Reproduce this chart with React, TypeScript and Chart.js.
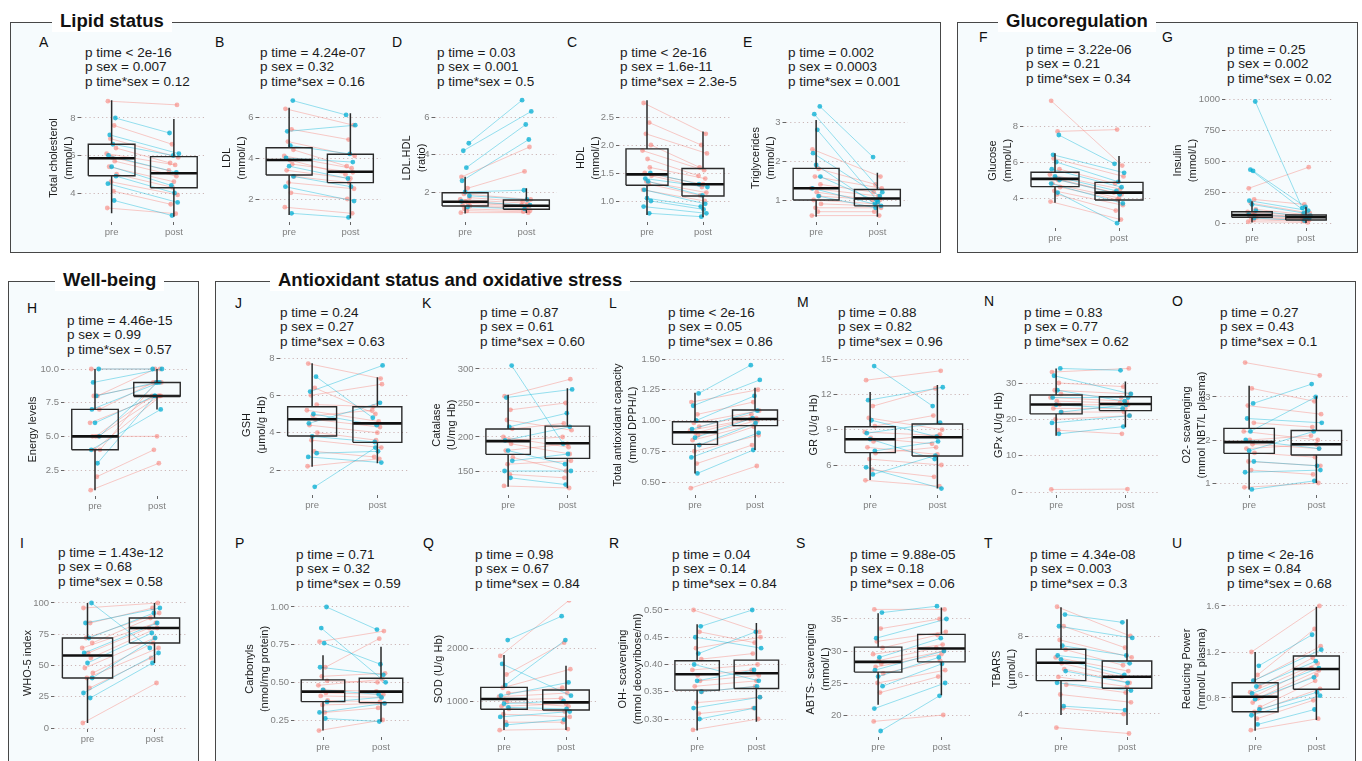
import React, { useEffect, useRef } from 'react';
import { Chart, registerables } from 'chart.js';
Chart.register(...registerables);

const FONT = '"Liberation Sans", Arial, Helvetica, sans-serif';
const X_LABELS = ['pre', 'post'];
const JITTER_PRE = [-0.06, 0.04, -0.02, 0.07, -0.08, 0.01, 0.05, -0.04, 0.08, -0.01, 0.03, -0.07, 0.06, -0.03, 0.02, -0.05, 0.0, 0.07, -0.06, 0.04];
const JITTER_POST = [0.05, -0.03, 0.07, -0.06, 0.02, -0.08, 0.04, 0.0, -0.02, 0.06, -0.05, 0.03, -0.07, 0.08, -0.01, 0.04, -0.04, 0.01, 0.06, -0.03];

// ---------- A: Total cholesterol ----------
const A_P = ['p time < 2e-16', 'p sex = 0.007', 'p time*sex = 0.12'];
const A_TICKS = [4, 6, 8];
const A_BOX_PRE = [2.92, 4.92, 5.85, 6.6, 8.95];
const A_BOX_POST = [2.74, 4.28, 5.05, 5.94, 7.95];
const A_F_PRE = [8.9, 7.6, 6.9, 6.4, 6.1, 5.9, 5.7, 5.4, 5.0, 4.6, 4.1, 3.2];
const A_F_POST = [8.7, 6.6, 5.9, 5.6, 5.5, 5.2, 4.9, 4.6, 4.3, 3.9, 3.4, 2.9];
const A_M_PRE = [8.0, 7.1, 6.6, 6.0, 5.4, 4.9, 4.5, 3.6];
const A_M_POST = [7.2, 6.1, 6.0, 5.1, 4.4, 4.0, 3.5, 2.8];

// ---------- B: LDL ----------
const B_P = ['p time = 4.24e-07', 'p sex = 0.32', 'p time*sex = 0.16'];
const B_TICKS = [2, 4, 6];
const B_BOX_PRE = [1.22, 3.17, 3.9, 4.5, 6.45];
const B_BOX_POST = [1.06, 2.8, 3.33, 4.18, 6.18];
const B_F_PRE = [6.4, 5.4, 4.8, 4.4, 4.1, 3.9, 3.7, 3.4, 3.1, 2.8, 2.3, 1.6];
const B_F_POST = [5.6, 4.9, 4.1, 3.6, 3.5, 3.2, 3.3, 3.0, 2.8, 2.5, 2.0, 1.3];
const B_M_PRE = [6.8, 5.3, 4.6, 4.0, 3.6, 3.1, 2.6, 1.3];
const B_M_POST = [6.1, 5.6, 4.2, 3.8, 3.0, 2.6, 1.9, 1.1];

// ---------- D: LDL.HDL ----------
const D_P = ['p time = 0.03', 'p sex = 0.001', 'p time*sex = 0.5'];
const D_TICKS = [2, 4, 6];
const D_BOX_PRE = [0.86, 1.25, 1.48, 1.96, 2.82];
const D_BOX_POST = [0.88, 1.08, 1.27, 1.57, 2.2];
const D_F_PRE = [2.8, 2.2, 1.9, 1.7, 1.6, 1.5, 1.4, 1.3, 1.25, 1.1, 1.0, 0.9];
const D_F_POST = [4.4, 3.1, 1.6, 1.5, 1.4, 1.3, 1.25, 1.2, 1.1, 1.0, 0.95, 0.9];
const D_M_PRE = [4.6, 4.2, 3.3, 2.6, 2.0, 1.8, 1.5, 1.2];
const D_M_POST = [6.9, 6.3, 5.6, 4.8, 2.1, 1.6, 1.3, 1.1];

// ---------- C: HDL ----------
const C_P = ['p time < 2e-16', 'p sex = 1.6e-11', 'p time*sex = 2.3e-5'];
const C_TICKS = [1.0, 1.5, 2.0, 2.5];
const C_BOX_PRE = [0.75, 1.28, 1.475, 1.93, 2.8];
const C_BOX_POST = [0.71, 1.09, 1.3, 1.58, 2.24];
const C_F_PRE = [2.75, 2.4, 2.2, 2.0, 1.9, 1.75, 1.6, 1.5, 1.45, 1.35, 1.3, 1.2];
const C_F_POST = [2.2, 2.0, 1.85, 1.6, 1.55, 1.45, 1.4, 1.3, 1.25, 1.15, 1.1, 1.0];
const C_M_PRE = [1.5, 1.4, 1.35, 1.2, 1.05, 1.0, 0.9, 0.78];
const C_M_POST = [1.3, 1.25, 1.1, 0.95, 0.9, 0.85, 0.78, 0.72];

// ---------- E: Triglycerides ----------
const E_P = ['p time = 0.002', 'p sex = 0.0003', 'p time*sex = 0.001'];
const E_TICKS = [1, 2, 3];
const E_BOX_PRE = [0.57, 1.0, 1.3, 1.81, 3.05];
const E_BOX_POST = [0.57, 0.85, 1.04, 1.27, 1.7];
const E_F_PRE = [2.3, 1.8, 1.6, 1.4, 1.3, 1.2, 1.1, 1.0, 0.9, 0.8, 0.7, 0.6];
const E_F_POST = [1.6, 1.4, 1.3, 1.2, 1.1, 1.0, 1.0, 0.9, 0.85, 0.8, 0.7, 0.6];
const E_M_PRE = [3.4, 3.2, 2.8, 2.2, 1.9, 1.6, 1.3, 1.1];
const E_M_POST = [2.1, 1.2, 1.0, 1.1, 0.9, 0.95, 0.85, 0.8];

// ---------- F: Glucose ----------
const F_P = ['p time = 3.22e-06', 'p sex = 0.21', 'p time*sex = 0.34'];
const F_TICKS = [4, 6, 8];
const F_BOX_PRE = [3.74, 4.63, 5.06, 5.43, 6.48];
const F_BOX_POST = [2.68, 3.89, 4.3, 4.87, 6.33];
const F_F_PRE = [9.4, 7.7, 6.2, 5.6, 5.3, 5.1, 5.0, 4.8, 4.6, 4.4, 4.2, 3.8];
const F_F_POST = [5.8, 7.8, 5.2, 4.8, 4.5, 4.3, 4.2, 4.0, 3.9, 3.6, 3.3, 2.8];
const F_M_PRE = [7.5, 6.4, 6.0, 5.6, 5.2, 5.0, 4.8, 4.3];
const F_M_POST = [5.9, 5.4, 4.9, 4.6, 4.4, 4.2, 3.7, 2.6];

// ---------- G: Insulin ----------
const G_P = ['p time = 0.25', 'p sex = 0.002', 'p time*sex = 0.02'];
const G_TICKS = [0, 250, 500, 750, 1000];
const G_BOX_PRE = [5, 46, 65, 91, 175];
const G_BOX_POST = [0, 24, 46, 65, 131];
const G_F_PRE = [280, 190, 160, 110, 90, 75, 65, 55, 45, 35, 25, 10];
const G_F_POST = [450, 150, 80, 70, 60, 50, 45, 40, 30, 25, 15, 5];
const G_M_PRE = [980, 430, 420, 180, 150, 100, 70, 40];
const G_M_POST = [120, 60, 130, 100, 80, 50, 40, 20];

// ---------- H: Energy levels ----------
const H_P = ['p time = 4.46e-15', 'p sex = 0.99', 'p time*sex = 0.57'];
const H_TICKS = [2.5, 5, 7.5, 10];
const H_BOX_PRE = [1, 4, 5, 7, 10];
const H_BOX_POST = [7, 8, 8, 9, 10];
const H_F_PRE = [10, 8, 8, 7, 6, 5, 5, 5, 4, 4, 2, 1];
const H_F_POST = [10, 10, 9, 9, 8, 8, 8, 5, 9, 8, 4, 3];
const H_M_PRE = [10, 9, 8, 7, 6, 5, 4, 3];
const H_M_POST = [10, 10, 9, 9, 8, 9, 7, 8];

// ---------- I: WHO-5 ----------
const I_P = ['p time = 1.43e-12', 'p sex = 0.68', 'p time*sex = 0.58'];
const I_TICKS = [0, 25, 50, 75, 100];
const I_BOX_PRE = [4, 40, 58, 72, 100];
const I_BOX_POST = [52, 68, 80, 88, 100];
const I_F_PRE = [96, 84, 72, 68, 64, 60, 56, 48, 44, 40, 32, 4];
const I_F_POST = [100, 96, 92, 88, 84, 80, 80, 72, 68, 64, 56, 36];
const I_M_PRE = [100, 84, 72, 60, 52, 40, 28, 24];
const I_M_POST = [64, 96, 92, 84, 76, 72, 60, 52];

// ---------- J: GSH ----------
const J_P = ['p time = 0.24', 'p sex = 0.27', 'p time*sex = 0.63'];
const J_TICKS = [2, 4, 6, 8];
const J_BOX_PRE = [2.18, 3.82, 4.72, 5.39, 7.72];
const J_BOX_POST = [2.36, 3.48, 4.5, 5.39, 6.97];
const J_F_PRE = [7.7, 6.4, 6.0, 5.5, 5.2, 4.9, 4.7, 4.4, 4.0, 3.6, 3.0, 2.2];
const J_F_POST = [6.9, 5.0, 6.6, 5.4, 4.6, 5.2, 4.3, 4.0, 3.6, 3.2, 2.7, 2.6];
const J_M_PRE = [7.0, 6.2, 5.0, 4.5, 3.8, 2.9, 2.7, 1.1];
const J_M_POST = [4.8, 7.6, 4.4, 5.6, 3.5, 3.0, 2.4, 3.2];

// ---------- K: Catalase ----------
const K_P = ['p time = 0.87', 'p sex = 0.61', 'p time*sex = 0.60'];
const K_TICKS = [150, 200, 250, 300];
const K_BOX_PRE = [127, 174.5, 194, 211.8, 262];
const K_BOX_POST = [124.5, 168.6, 190.7, 216, 271.6];
const K_F_PRE = [260, 240, 225, 212, 200, 195, 190, 180, 170, 160, 145, 128];
const K_F_POST = [285, 250, 210, 220, 185, 200, 175, 190, 150, 165, 140, 125];
const K_M_PRE = [305, 258, 215, 195, 180, 165, 150, 140];
const K_M_POST = [190, 270, 235, 215, 160, 175, 150, 130];

// ---------- L: Total antioxidant capacity ----------
const L_P = ['p time < 2e-16', 'p sex = 0.05', 'p time*sex = 0.86'];
const L_TICKS = [0.5, 0.75, 1.0, 1.25, 1.5];
const L_BOX_PRE = [0.57, 0.806, 0.904, 0.99, 1.226];
const L_BOX_POST = [0.76, 0.958, 1.012, 1.085, 1.267];
const L_F_PRE = [1.15, 1.05, 0.98, 0.95, 0.92, 0.9, 0.88, 0.84, 0.8, 0.75, 0.65, 0.45];
const L_F_POST = [1.25, 1.15, 1.08, 1.05, 1.02, 1.01, 1.0, 0.97, 0.95, 0.88, 0.8, 0.63];
const L_M_PRE = [1.22, 1.12, 1.0, 0.93, 0.86, 0.8, 0.7, 0.57];
const L_M_POST = [1.45, 1.33, 1.2, 1.08, 1.02, 0.98, 0.9, 0.76];

// ---------- M: GR ----------
const M_P = ['p time = 0.88', 'p sex = 0.82', 'p time*sex = 0.96'];
const M_TICKS = [6, 9, 12, 15];
const M_BOX_PRE = [4.73, 7.05, 8.18, 9.25, 12.2];
const M_BOX_POST = [4.0, 6.76, 8.35, 9.48, 12.8];
const M_F_PRE = [13.2, 11.0, 10.0, 9.3, 8.8, 8.3, 8.0, 7.5, 7.0, 6.5, 5.6, 4.7];
const M_F_POST = [14.0, 12.5, 9.0, 10.2, 8.5, 7.8, 8.6, 6.9, 7.5, 6.0, 5.0, 4.2];
const M_M_PRE = [14.4, 11.5, 9.8, 8.7, 8.2, 7.2, 5.8, 5.2];
const M_M_POST = [11.0, 12.6, 8.4, 9.6, 6.5, 8.0, 4.0, 6.8];

// ---------- N: GPx ----------
const N_P = ['p time = 0.83', 'p sex = 0.77', 'p time*sex = 0.62'];
const N_TICKS = [0, 10, 20, 30];
const N_BOX_PRE = [15.5, 21.5, 24.1, 26.7, 34.0];
const N_BOX_POST = [17.8, 22.4, 24.2, 26.2, 30.4];
const N_F_PRE = [33, 30, 28, 27, 26, 25, 24, 23, 22, 20, 17, 0.7];
const N_F_POST = [34, 29, 27, 26, 25, 24.5, 24, 23, 22, 21, 16, 0.8];
const N_M_PRE = [34, 32, 28, 26, 24, 22, 19, 16];
const N_M_POST = [33.5, 27, 25, 26, 23, 24, 21, 18];

// ---------- O: O2- scavenging ----------
const O_P = ['p time = 0.27', 'p sex = 0.43', 'p time*sex = 0.1'];
const O_TICKS = [1, 2, 3];
const O_BOX_PRE = [0.85, 1.69, 1.95, 2.27, 3.26];
const O_BOX_POST = [1.0, 1.65, 1.9, 2.22, 3.02];
const O_F_PRE = [3.8, 3.2, 2.8, 2.4, 2.2, 2.0, 1.9, 1.8, 1.7, 1.5, 1.3, 0.9];
const O_F_POST = [3.5, 2.9, 2.6, 2.3, 2.0, 2.1, 1.8, 1.9, 1.6, 1.4, 1.2, 1.0];
const O_M_PRE = [2.85, 2.5, 2.2, 2.0, 1.75, 1.5, 1.25, 0.85];
const O_M_POST = [3.3, 2.4, 3.0, 1.8, 2.2, 1.4, 1.3, 1.05];

// ---------- P: Carbonyls ----------
const P_P = ['p time = 0.71', 'p sex = 0.32', 'p time*sex = 0.59'];
const P_TICKS = [0.25, 0.5, 0.75, 1.0];
const P_BOX_PRE = [0.18, 0.372, 0.438, 0.516, 0.68];
const P_BOX_POST = [0.239, 0.365, 0.438, 0.527, 0.737];
const P_F_PRE = [0.77, 0.6, 0.54, 0.51, 0.48, 0.45, 0.43, 0.41, 0.38, 0.35, 0.3, 0.18];
const P_F_POST = [0.84, 0.79, 0.56, 0.5, 0.52, 0.44, 0.42, 0.4, 0.37, 0.36, 0.33, 0.25];
const P_M_PRE = [1.0, 0.86, 0.76, 0.6, 0.45, 0.37, 0.3, 0.26];
const P_M_POST = [0.85, 0.5, 0.62, 0.55, 0.42, 0.4, 0.36, 0.24];

// ---------- Q: SOD ----------
const Q_P = ['p time = 0.98', 'p sex = 0.67', 'p time*sex = 0.84'];
const Q_TICKS = [1000, 2000];
const Q_BOX_PRE = [453, 843, 1038, 1258, 1868];
const Q_BOX_POST = [453, 830, 975, 1208, 1666];
const Q_F_PRE = [1850, 1500, 1250, 1150, 1080, 1020, 980, 900, 850, 750, 600, 450];
const Q_F_POST = [2900, 2100, 1600, 1250, 1150, 1050, 900, 950, 800, 700, 600, 470];
const Q_M_PRE = [2150, 1700, 1300, 1100, 950, 880, 700, 550];
const Q_M_POST = [2600, 1100, 2150, 1350, 1000, 850, 800, 650];

// ---------- R: OH- scavenging ----------
const R_P = ['p time = 0.04', 'p sex = 0.14', 'p time*sex = 0.84'];
const R_TICKS = [0.3, 0.35, 0.4, 0.45, 0.5];
const R_BOX_PRE = [0.279, 0.353, 0.382, 0.407, 0.474];
const R_BOX_POST = [0.295, 0.356, 0.384, 0.408, 0.476];
const R_F_PRE = [0.5, 0.46, 0.43, 0.41, 0.39, 0.38, 0.37, 0.36, 0.35, 0.33, 0.31, 0.28];
const R_F_POST = [0.46, 0.44, 0.45, 0.42, 0.4, 0.39, 0.38, 0.37, 0.36, 0.34, 0.32, 0.3];
const R_M_PRE = [0.47, 0.45, 0.42, 0.4, 0.37, 0.35, 0.32, 0.3];
const R_M_POST = [0.5, 0.43, 0.46, 0.37, 0.39, 0.36, 0.34, 0.32];

// ---------- S: ABTS- scavenging ----------
const S_P = ['p time = 9.88e-05', 'p sex = 0.18', 'p time*sex = 0.06'];
const S_TICKS = [20, 25, 30, 35];
const S_BOX_PRE = [21.6, 26.7, 28.3, 30.6, 35.9];
const S_BOX_POST = [23.1, 28.3, 30.4, 32.6, 36.8];
const S_F_PRE = [36.5, 33.5, 31.5, 30.5, 29.5, 28.5, 28, 27.5, 26.5, 25, 23.5, 19];
const S_F_POST = [36.5, 35, 33, 32.5, 31, 30.5, 30, 29.5, 28.5, 27, 26, 20];
const S_M_PRE = [36, 32, 29, 27, 26, 24.5, 21, 17.5];
const S_M_POST = [37, 35, 32, 30, 29, 28, 25, 23];

// ---------- T: TBARS ----------
const T_P = ['p time = 4.34e-08', 'p sex = 0.003', 'p time*sex = 0.3'];
const T_TICKS = [4, 6, 8];
const T_BOX_PRE = [3.95, 5.71, 6.63, 7.32, 9.47];
const T_BOX_POST = [3.44, 5.32, 5.91, 6.72, 8.86];
const T_F_PRE = [9.5, 8.5, 7.8, 7.3, 6.9, 6.6, 6.3, 5.9, 5.5, 5.0, 4.3, 3.3];
const T_F_POST = [8.0, 7.4, 6.9, 6.5, 6.2, 5.9, 5.6, 5.4, 5.1, 4.6, 4.0, 3.0];
const T_M_PRE = [9.1, 8.5, 7.5, 7.0, 6.8, 6.2, 5.6, 4.4];
const T_M_POST = [8.7, 7.9, 7.0, 6.6, 6.0, 5.6, 5.2, 4.2];

// ---------- U: Reducing power ----------
const U_P = ['p time < 2e-16', 'p sex = 0.84', 'p time*sex = 0.68'];
const U_TICKS = [0.8, 1.2, 1.6];
const U_BOX_PRE = [0.516, 0.681, 0.811, 0.933, 1.2];
const U_BOX_POST = [0.609, 0.876, 1.052, 1.165, 1.594];
const U_F_PRE = [1.2, 1.0, 0.95, 0.9, 0.85, 0.82, 0.8, 0.76, 0.72, 0.68, 0.62, 0.52];
const U_F_POST = [1.6, 1.4, 1.25, 1.15, 1.1, 1.06, 1.04, 1.0, 0.95, 0.88, 0.78, 0.62];
const U_M_PRE = [1.08, 0.95, 0.9, 0.84, 0.79, 0.7, 0.65, 0.57];
const U_M_POST = [1.35, 1.22, 1.12, 1.06, 0.98, 0.85, 0.82, 0.7];

// ---------- layout (pixels) ----------
const LIPID_TB = [94, 222];
const GLUCO_TB = [93, 228];
const H_TB = [363, 496];
const ROW1_TB = [355, 495];
const I_TB = [597, 729];
const ROW2_TB = [601, 737];

type Cfg = {
  letter: string; p: string[]; yTitle: string[]; ticks: number[]; dec: number;
  boxPre: number[]; boxPost: number[]; fPre: number[]; fPost: number[]; mPre: number[]; mPost: number[];
  centers: number[]; tb: number[]; cal: number[]; t1x: number; letterPos: number[]; pPos: number[];
};

const PANELS: Cfg[] = [
  { letter: 'A', p: A_P, yTitle: ['Total cholesterol', '(mmol/L)'], ticks: A_TICKS, dec: 0, boxPre: A_BOX_PRE, boxPost: A_BOX_POST, fPre: A_F_PRE, fPost: A_F_POST, mPre: A_M_PRE, mPost: A_M_POST, centers: [112, 175], tb: LIPID_TB, cal: [8, 118, 4, 193], t1x: 53.5, letterPos: [39, 42], pPos: [85, 53] },
  { letter: 'B', p: B_P, yTitle: ['LDL', '(mmol/L)'], ticks: B_TICKS, dec: 0, boxPre: B_BOX_PRE, boxPost: B_BOX_POST, fPre: B_F_PRE, fPost: B_F_POST, mPre: B_M_PRE, mPost: B_M_POST, centers: [289, 351], tb: LIPID_TB, cal: [6, 117, 2, 199], t1x: 226, letterPos: [215, 42], pPos: [260, 53] },
  { letter: 'D', p: D_P, yTitle: ['LDL.HDL', '(ratio)'], ticks: D_TICKS, dec: 0, boxPre: D_BOX_PRE, boxPost: D_BOX_POST, fPre: D_F_PRE, fPost: D_F_POST, mPre: D_M_PRE, mPost: D_M_POST, centers: [465, 527], tb: LIPID_TB, cal: [6, 117, 2, 192], t1x: 406, letterPos: [392, 42], pPos: [437, 53] },
  { letter: 'C', p: C_P, yTitle: ['HDL', '(mmol/L)'], ticks: C_TICKS, dec: 1, boxPre: C_BOX_PRE, boxPost: C_BOX_POST, fPre: C_F_PRE, fPost: C_F_POST, mPre: C_M_PRE, mPost: C_M_POST, centers: [647, 704], tb: LIPID_TB, cal: [2.5, 117, 1, 201], t1x: 580, letterPos: [567, 42], pPos: [620, 53] },
  { letter: 'E', p: E_P, yTitle: ['Triglycerides', '(mmol/L)'], ticks: E_TICKS, dec: 0, boxPre: E_BOX_PRE, boxPost: E_BOX_POST, fPre: E_F_PRE, fPost: E_F_POST, mPre: E_M_PRE, mPost: E_M_POST, centers: [816, 878], tb: LIPID_TB, cal: [3, 122, 1, 200], t1x: 755, letterPos: [743, 42], pPos: [788, 53] },
  { letter: 'F', p: F_P, yTitle: ['Glucose', '(mmol/L)'], ticks: F_TICKS, dec: 0, boxPre: F_BOX_PRE, boxPost: F_BOX_POST, fPre: F_F_PRE, fPost: F_F_POST, mPre: F_M_PRE, mPost: F_M_POST, centers: [1055, 1120], tb: GLUCO_TB, cal: [8, 126, 4, 198], t1x: 992, letterPos: [979, 37], pPos: [1026, 50] },
  { letter: 'G', p: G_P, yTitle: ['Insulin', '(mmol/L)'], ticks: G_TICKS, dec: 0, boxPre: G_BOX_PRE, boxPost: G_BOX_POST, fPre: G_F_PRE, fPost: G_F_POST, mPre: G_M_PRE, mPost: G_M_POST, centers: [1252, 1307], tb: GLUCO_TB, cal: [1000, 99, 0, 223], t1x: 1177, letterPos: [1162, 37], pPos: [1227, 50] },
  { letter: 'H', p: H_P, yTitle: ['Energy levels'], ticks: H_TICKS, dec: 1, boxPre: H_BOX_PRE, boxPost: H_BOX_POST, fPre: H_F_PRE, fPost: H_F_POST, mPre: H_M_PRE, mPost: H_M_POST, centers: [95, 158], tb: H_TB, cal: [10, 369, 2.5, 470], t1x: 32, letterPos: [27, 308], pPos: [67, 321] },
  { letter: 'I', p: I_P, yTitle: ['WHO-5 index'], ticks: I_TICKS, dec: 0, boxPre: I_BOX_PRE, boxPost: I_BOX_POST, fPre: I_F_PRE, fPost: I_F_POST, mPre: I_M_PRE, mPost: I_M_POST, centers: [88, 156], tb: I_TB, cal: [100, 603, 0, 728], t1x: 27.5, letterPos: [20, 543], pPos: [58, 553] },
  { letter: 'J', p: J_P, yTitle: ['GSH', '(μmol/g Hb)'], ticks: J_TICKS, dec: 0, boxPre: J_BOX_PRE, boxPost: J_BOX_POST, fPre: J_F_PRE, fPost: J_F_POST, mPre: J_M_PRE, mPost: J_M_POST, centers: [312, 378], tb: ROW1_TB, cal: [8, 358, 2, 470], t1x: 246, letterPos: [235, 303], pPos: [280, 313] },
  { letter: 'K', p: K_P, yTitle: ['Catalase', '(U/mg Hb)'], ticks: K_TICKS, dec: 0, boxPre: K_BOX_PRE, boxPost: K_BOX_POST, fPre: K_F_PRE, fPost: K_F_POST, mPre: K_M_PRE, mPost: K_M_POST, centers: [508, 568], tb: ROW1_TB, cal: [300, 369, 150, 471], t1x: 436, letterPos: [422, 303], pPos: [480, 313] },
  { letter: 'L', p: L_P, yTitle: ['Total antioxidant capacity', '(mmol DPPH/L)'], ticks: L_TICKS, dec: 2, boxPre: L_BOX_PRE, boxPost: L_BOX_POST, fPre: L_F_PRE, fPost: L_F_POST, mPre: L_M_PRE, mPost: L_M_POST, centers: [695, 756], tb: ROW1_TB, cal: [1.5, 359, 0.5, 482], t1x: 617, letterPos: [609, 303], pPos: [668, 313] },
  { letter: 'M', p: M_P, yTitle: ['GR (U/g Hb)'], ticks: M_TICKS, dec: 0, boxPre: M_BOX_PRE, boxPost: M_BOX_POST, fPre: M_F_PRE, fPost: M_F_POST, mPre: M_M_PRE, mPost: M_M_POST, centers: [870, 938], tb: ROW1_TB, cal: [15, 359, 6, 465], t1x: 813, letterPos: [797, 302], pPos: [838, 313] },
  { letter: 'N', p: N_P, yTitle: ['GPx (U/g Hb)'], ticks: N_TICKS, dec: 0, boxPre: N_BOX_PRE, boxPost: N_BOX_POST, fPre: N_F_PRE, fPost: N_F_POST, mPre: N_M_PRE, mPost: N_M_POST, centers: [1056, 1126], tb: ROW1_TB, cal: [30, 383, 0, 492], t1x: 998, letterPos: [984, 301], pPos: [1024, 313] },
  { letter: 'O', p: O_P, yTitle: ['O2- scavenging', '(mmol NBT/L plasma)'], ticks: O_TICKS, dec: 0, boxPre: O_BOX_PRE, boxPost: O_BOX_POST, fPre: O_F_PRE, fPost: O_F_POST, mPre: O_M_PRE, mPost: O_M_POST, centers: [1249, 1317], tb: ROW1_TB, cal: [3, 397, 1, 483], t1x: 1186, letterPos: [1172, 301], pPos: [1220, 313] },
  { letter: 'P', p: P_P, yTitle: ['Carbonyls', '(nmol/mg protein)'], ticks: P_TICKS, dec: 2, boxPre: P_BOX_PRE, boxPost: P_BOX_POST, fPre: P_F_PRE, fPost: P_F_POST, mPre: P_M_PRE, mPost: P_M_POST, centers: [323, 382], tb: ROW2_TB, cal: [1, 607, 0.25, 720], t1x: 249, letterPos: [235, 543], pPos: [296, 555] },
  { letter: 'Q', p: Q_P, yTitle: ['SOD (U/g Hb)'], ticks: Q_TICKS, dec: 0, boxPre: Q_BOX_PRE, boxPost: Q_BOX_POST, fPre: Q_F_PRE, fPost: Q_F_POST, mPre: Q_M_PRE, mPost: Q_M_POST, centers: [504, 567], tb: ROW2_TB, cal: [2000, 648, 1000, 701], t1x: 438, letterPos: [423, 543], pPos: [475, 555] },
  { letter: 'R', p: R_P, yTitle: ['OH- scavenging', '(mmol deoxyribose/ml)'], ticks: R_TICKS, dec: 2, boxPre: R_BOX_PRE, boxPost: R_BOX_POST, fPre: R_F_PRE, fPost: R_F_POST, mPre: R_M_PRE, mPost: R_M_POST, centers: [697, 757], tb: ROW2_TB, cal: [0.5, 610, 0.3, 719], t1x: 622, letterPos: [609, 543], pPos: [672, 555] },
  { letter: 'S', p: S_P, yTitle: ['ABTS- scavenging', '(mmol/L)'], ticks: S_TICKS, dec: 0, boxPre: S_BOX_PRE, boxPost: S_BOX_POST, fPre: S_F_PRE, fPost: S_F_POST, mPre: S_M_PRE, mPost: S_M_POST, centers: [878, 942], tb: ROW2_TB, cal: [35, 619, 20, 715], t1x: 810, letterPos: [796, 543], pPos: [850, 555] },
  { letter: 'T', p: T_P, yTitle: ['TBARS', '(μmol/L)'], ticks: T_TICKS, dec: 0, boxPre: T_BOX_PRE, boxPost: T_BOX_POST, fPre: T_F_PRE, fPost: T_F_POST, mPre: T_M_PRE, mPost: T_M_POST, centers: [1061, 1128], tb: ROW2_TB, cal: [8, 636, 4, 714], t1x: 996, letterPos: [984, 543], pPos: [1030, 555] },
  { letter: 'U', p: U_P, yTitle: ['Reducing Power', '(mmol/L plasma)'], ticks: U_TICKS, dec: 1, boxPre: U_BOX_PRE, boxPost: U_BOX_POST, fPre: U_F_PRE, fPost: U_F_POST, mPre: U_M_PRE, mPost: U_M_POST, centers: [1255, 1317], tb: ROW2_TB, cal: [1.6, 606, 0.8, 698], t1x: 1186, letterPos: [1172, 543], pPos: [1227, 555] },
];

const FRAMES = [
  { title: 'Lipid status', left: 10, top: 22, width: 931, height: 231, titleLeft: 52 },
  { title: 'Glucoregulation', left: 957, top: 22, width: 401, height: 231, titleLeft: 998 },
  { title: 'Well-being', left: 8, top: 281, width: 191, height: 500, titleLeft: 55 },
  { title: 'Antioxidant status and oxidative stress', left: 215, top: 281, width: 1141, height: 500, titleLeft: 270 },
];

const PINK_PT = 'rgba(248,118,109,0.55)';
const PINK_LN = 'rgba(248,118,109,0.38)';
const CYAN_PT = 'rgba(0,172,210,0.75)';
const CYAN_LN = 'rgba(0,180,214,0.4)';
const TITLE_LH = 15;
const PAD_T = 8;
const PAD_R = 2;
const XH = 22;
const HW = 0.375;

function pairData(pre: number[], post: number[], offset: number) {
  const out: any[] = [];
  pre.forEach((v, i) => {
    out.push({ x: 1 + JITTER_PRE[i + offset], y: v });
    out.push({ x: 2 + JITTER_POST[i + offset], y: post[i] });
    out.push({ x: 1.5, y: null });
  });
  return out;
}

function boxOutline(c: number, s: number[]) {
  return [
    { x: c - HW, y: s[1] }, { x: c + HW, y: s[1] }, { x: c + HW, y: s[3] },
    { x: c - HW, y: s[3] }, { x: c - HW, y: s[1] }, { x: c, y: null },
  ];
}
function medianLine(c: number, s: number[]) {
  return [{ x: c - HW, y: s[2] }, { x: c + HW, y: s[2] }, { x: c, y: null }];
}
function whiskers(c: number, s: number[]) {
  return [{ x: c, y: s[3] }, { x: c, y: s[4] }, { x: c, y: null }, { x: c, y: s[1] }, { x: c, y: s[0] }, { x: c, y: null }];
}

function BoxPanel({ cfg }: { cfg: Cfg }) {
  const ref = useRef<HTMLCanvasElement>(null);
  const [pre, post] = cfg.centers;
  const d = post - pre;
  const L = pre - d / 2;
  const R = post + d / 2;
  const [T, B] = cfg.tb;
  const cLeft = cfg.t1x - TITLE_LH / 2;
  const cTop = T - PAD_T;
  const w = Math.round(R - cLeft + PAD_R);
  const h = Math.round(B - T + PAD_T + XH);
  const yw = L - cLeft;

  useEffect(() => {
    const [v1, p1, v2, p2] = cfg.cal;
    const k = (p2 - p1) / (v1 - v2);
    const yMax = v1 + (p1 - T) / k;
    const yMin = v1 - (B - p1) / k;
    const boxColor = '#2a2a2a';
    const chart = new Chart(ref.current as HTMLCanvasElement, {
      type: 'line',
      data: {
        datasets: [
          { data: boxOutline(1, cfg.boxPre).concat(boxOutline(2, cfg.boxPost)), borderColor: boxColor, borderWidth: 1.4, pointRadius: 0, fill: false, order: 0 },
          { data: medianLine(1, cfg.boxPre).concat(medianLine(2, cfg.boxPost)), borderColor: '#111', borderWidth: 2.6, pointRadius: 0, fill: false, order: 0 },
          { data: whiskers(1, cfg.boxPre).concat(whiskers(2, cfg.boxPost)), borderColor: boxColor, borderWidth: 1.5, pointRadius: 0, fill: false, order: 0 },
          { data: pairData(cfg.mPre, cfg.mPost, 12), borderColor: CYAN_LN, borderWidth: 1, pointRadius: 2.4, pointBackgroundColor: CYAN_PT, pointBorderWidth: 0, fill: false, order: 1 },
          { data: pairData(cfg.fPre, cfg.fPost, 0), borderColor: PINK_LN, borderWidth: 1, pointRadius: 2.4, pointBackgroundColor: PINK_PT, pointBorderWidth: 0, fill: false, order: 2 },
        ] as any,
      },
      options: {
        responsive: false,
        animation: false,
        events: [],
        spanGaps: false,
        layout: { padding: { top: PAD_T, right: PAD_R, left: 0, bottom: 0 } },
        plugins: { legend: { display: false }, tooltip: { enabled: false }, title: { display: false } },
        elements: { line: { tension: 0 } },
        scales: {
          x: {
            type: 'linear', min: 0.5, max: 2.5,
            afterBuildTicks: (s: any) => { s.ticks = X_LABELS.map((_, i) => ({ value: i + 1 })); },
            afterFit: (s: any) => { s.height = XH; },
            ticks: { callback: (v: any) => X_LABELS[Math.round(v) - 1], color: '#808080', font: { family: FONT, size: 9.5 }, padding: 2, maxRotation: 0, autoSkip: false },
            grid: { drawOnChartArea: false, drawTicks: true, tickLength: 3, tickColor: '#666', tickWidth: 1 },
            border: { display: false },
          },
          y: {
            type: 'linear', min: yMin, max: yMax,
            afterBuildTicks: (s: any) => { s.ticks = cfg.ticks.map((v) => ({ value: v })); },
            afterFit: (s: any) => { s.width = yw; },
            ticks: { callback: (v: any) => Number(v).toFixed(cfg.dec), color: '#808080', font: { family: FONT, size: 9.5 }, padding: 2, autoSkip: false },
            grid: { color: 'rgba(200,175,175,0.9)', lineWidth: 1, drawTicks: true, tickLength: 3, tickColor: '#666', tickWidth: 1, tickBorderDash: [] },
            border: { display: false, dash: [1.2, 3] },
            title: { display: true, text: cfg.yTitle, color: '#1a1a1a', padding: 0, font: { family: FONT, size: 11, lineHeight: TITLE_LH / 11 } },
          },
        },
      } as any,
    });
    return () => chart.destroy();
  }, []);

  return (
    <>
      <div style={{ position: 'absolute', left: cfg.letterPos[0], top: cfg.letterPos[1] - 8, fontSize: 14, lineHeight: '16px', color: '#111' }}>{cfg.letter}</div>
      <div style={{ position: 'absolute', left: cfg.pPos[0], top: cfg.pPos[1] - 7.25, fontSize: 13.5, lineHeight: '14.5px', color: '#1a1a1a', whiteSpace: 'pre' }}>
        {cfg.p.map((t, i) => <div key={i}>{t}</div>)}
      </div>
      <canvas ref={ref} width={w} height={h} style={{ position: 'absolute', left: cLeft, top: cTop, width: w, height: h }} />
    </>
  );
}

export default function App() {
  return (
    <div style={{ position: 'fixed', left: 0, top: 0, width: 1362, height: 761, overflow: 'hidden', background: '#fff', fontFamily: FONT }}>
      {FRAMES.map((f) => (
        <div key={f.title}>
          <div style={{ position: 'absolute', left: f.left, top: f.top, width: f.width, height: f.height, border: '1.5px solid #474747', boxSizing: 'border-box', background: '#f6fbfd' }} />
          <div style={{ position: 'absolute', left: f.titleLeft, top: f.top - 12, padding: '0 8px', background: '#fff', fontWeight: 'bold', fontSize: 18.5, lineHeight: '22px', color: '#111' }}>{f.title}</div>
        </div>
      ))}
      {PANELS.map((c) => <BoxPanel key={c.letter} cfg={c} />)}
    </div>
  );
}
